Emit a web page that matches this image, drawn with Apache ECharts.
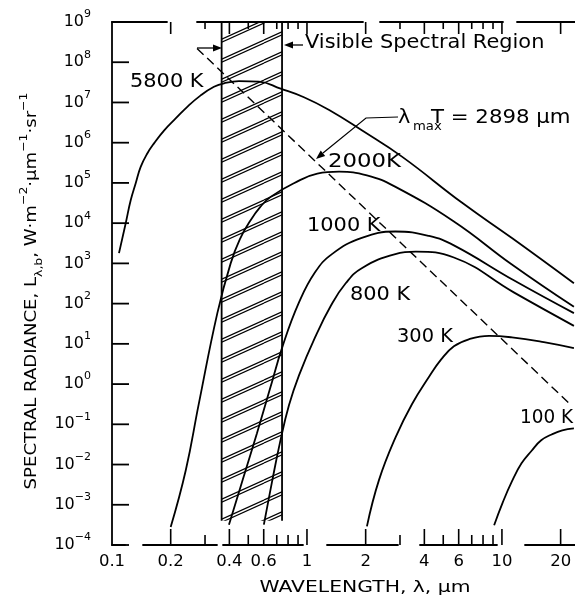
<!DOCTYPE html>
<html>
<head>
<meta charset="utf-8">
<script src="https://cdn.jsdelivr.net/npm/echarts@6.0.0/dist/echarts.min.js"></script>
<style>
html,body{margin:0;padding:0;background:#fff;}
#chart{width:575px;height:607px;}
</style>
</head>
<body>
<div id="chart"></div>
<script>
// ---------- values ----------
// wavelength (µm) and spectral radiance (W·m^-2·µm^-1·sr^-1) along each blackbody curve
const wl5800 = [0.1086, 0.1176, 0.1247, 0.1323, 0.1403, 0.1517, 0.1642, 0.1848, 0.2121, 0.2433, 0.2851, 0.3334, 0.3755, 0.448, 0.567, 0.733, 0.965, 1.3, 1.92, 3.07, 6.25, 11.3, 23.4];
const rad5800 = [1.8e3, 1.0e4, 3.7e4, 9.8e4, 2.5e5, 5.4e5, 9.6e5, 2.0e6, 4.0e6, 7.8e6, 1.5e7, 2.45e7, 3.0e7, 3.4e7, 3.3e7, 2.2e7, 1.35e7, 6.5e6, 2.0e6, 4.5e5, 3.2e4, 4.2e3, 3.2e2];

const wl2000 = [0.20, 0.239, 0.279, 0.347, 0.406, 0.453, 0.515, 0.575, 0.651, 0.857, 1.13, 1.46, 2.03, 2.83, 5.67, 11.2, 23.4];
const rad2000 = [2.8e-4, 7.2e-3, 0.33, 58, 1.0e3, 4.0e3, 1.2e4, 2.5e4, 4.5e4, 9.8e4, 1.7e5, 1.9e5, 1.55e5, 8.1e4, 1.1e4, 9.5e2, 83];

const wl1000 = [0.398, 0.469, 0.554, 0.645, 0.753, 0.91, 1.10, 1.343, 1.91, 2.84, 4.23, 5.67, 11.5, 23.4];
const rad1000 = [3.2e-4, 4.3e-3, 0.060, 0.74, 9.3, 107, 600, 1.7e3, 4.3e3, 6.2e3, 4.8e3, 2.8e3, 380, 58];

const wl800 = [0.601, 0.661, 0.727, 0.809, 0.91, 1.10, 1.33, 1.58, 1.91, 2.84, 3.62, 5.67, 11.5, 23.4];
const rad800 = [3.2e-4, 3.6e-3, 0.035, 0.30, 1.65, 14.5, 91, 320, 760, 1.7e3, 1.95e3, 1.4e3, 190, 28];

const wl300 = [2.03, 2.34, 2.85, 3.46, 4.22, 4.88, 5.67, 6.76, 8.59, 11.25, 16.4, 23.4];
const rad300 = [2.9e-4, 4.1e-3, 0.048, 0.32, 1.5, 4.1, 8.7, 13, 15.8, 14.5, 11, 7.8];

const wl100 = [9.12, 10.1, 11.25, 12.6, 14.2, 15.9, 18.0, 20.4, 23.4];
const rad100 = [3.1e-4, 1.15e-3, 3.8e-3, 0.0107, 0.022, 0.040, 0.056, 0.071, 0.079];

// Wien displacement line  lambda_max * T = 2898 µm·K
const wlWien = [0.273, 22.6];
const radWien = [2.2e8, 0.30];

// visible spectral region (µm) and vertical extent of the hatching
const visibleRange = [0.365, 0.745];
const visibleSpan = [4e-4, 1e9];

// axes
const xMin = 0.1, xMax = 23.7, yMin = 1e-4, yMax = 1e9;
const xTickValues = [0.2, 0.3, 0.4, 0.5, 0.6, 0.7, 0.8, 0.9, 1, 2, 3, 4, 5, 6, 7, 8, 9, 10, 20];
const xLabelValues = [0.1, 0.2, 0.4, 0.6, 1, 2, 4, 6, 10, 20];
const xLabelTexts = ['0.1', '0.2', '0.4', '0.6', '1', '2', '4', '6', '10', '20'];
const yTickValues = [1e-4, 1e-3, 1e-2, 1e-1, 1e0, 1e1, 1e2, 1e3, 1e4, 1e5, 1e6, 1e7, 1e8, 1e9];
const yTickExponents = ['−4', '−3', '−2', '−1', '0', '1', '2', '3', '4', '5', '6', '7', '8', '9'];

// ---------- drawing ----------
const FONT = 'DejaVu Sans';
const INK = '#000';

function pairs(xs, ys) { return xs.map((x, i) => [x, ys[i]]); }

function hatchPattern() {
  const W = 44, H = 20;
  const c = document.createElement('canvas');
  c.width = W; c.height = H;
  const g = c.getContext('2d');
  g.strokeStyle = INK; g.lineWidth = 1.2;
  [-H, 0, H].forEach(off => {
    [0, 3].forEach(d => {
      g.beginPath(); g.moveTo(0, H + off + d); g.lineTo(W, off + d); g.stroke();
    });
  });
  return c;
}

function curve(name, xs, ys) {
  return {
    type: 'line', name, data: pairs(xs, ys), smooth: 0.45, symbol: 'none', showSymbol: false,
    silent: true, z: 4, lineStyle: { color: INK, width: 1.8 }
  };
}

function txt(text, x, y, opts) {
  opts = opts || {};
  const size = opts.size || 19;
  return {
    type: 'text', x, y, scaleX: opts.sx || 1.1, rotation: opts.rot || 0, silent: true, z: 20,
    style: {
      text, fill: INK, fontFamily: FONT, fontSize: size,
      align: opts.align || 'left', textAlign: opts.align || 'left',
      verticalAlign: 'middle', textVerticalAlign: 'middle',
      rich: opts.rich
    }
  };
}

const chart = echarts.init(document.getElementById('chart'), null, { renderer: 'canvas' });

const supRich = {
  b: { fontFamily: FONT, fontSize: 16, lineHeight: 26, verticalAlign: 'middle', fill: INK },
  s: { fontFamily: FONT, fontSize: 11, lineHeight: 11, verticalAlign: 'top', fill: INK }
};

const titleRich = {
  m: { fontFamily: FONT, fontSize: 16, lineHeight: 26, verticalAlign: 'middle', fill: INK },
  u: { fontFamily: FONT, fontSize: 11, lineHeight: 11, verticalAlign: 'top', fill: INK },
  d: { fontFamily: FONT, fontSize: 11, lineHeight: 11, verticalAlign: 'bottom', fill: INK }
};

const option = {
  animation: false,
  backgroundColor: '#fff',
  grid: { left: 112, top: 22, right: 0, bottom: 62, containLabel: false, outerBoundsMode: 'none' },
  xAxis: [
    {
      type: 'log', logBase: 10, min: xMin, max: xMax, position: 'bottom',
      axisLine: { show: true, lineStyle: { color: INK, width: 1.8, type: [13, 18, 74, 6, 80, 24, 71, 22, 77, 28, 60, 100] } },
      axisTick: { show: false }, axisLabel: { show: false }, splitLine: { show: false }, minorTick: { show: false }
    },
    {
      type: 'log', logBase: 10, min: xMin, max: xMax, position: 'top',
      axisLine: { show: true, lineStyle: { color: INK, width: 1.8, type: [55, 30, 166, 17, 123, 14, 60, 100] } },
      axisTick: { show: false }, axisLabel: { show: false }, splitLine: { show: false }
    }
  ],
  yAxis: {
    type: 'log', logBase: 10, min: yMin, max: yMax, position: 'left',
    axisLine: { show: true, lineStyle: { color: INK, width: 1.8 } },
    axisTick: { show: false }, axisLabel: { show: false }, splitLine: { show: false }
  },
  series: [
    // visible region: hatched band with vertical borders
    {
      type: 'line', name: 'visible-left', data: [[visibleRange[0], visibleSpan[1]], [visibleRange[0], visibleSpan[0]]],
      symbol: 'none', silent: true, z: 3, lineStyle: { color: INK, width: 1.8 },
      markArea: {
        silent: true, z: 1,
        label: { show: false },
        itemStyle: { color: { image: hatchPattern(), repeat: 'repeat' }, opacity: 1, borderWidth: 0 },
        data: [[{ coord: [visibleRange[0], visibleSpan[1]] }, { coord: [visibleRange[1], visibleSpan[0]] }]]
      }
    },
    {
      type: 'line', name: 'visible-right', data: [[visibleRange[1], visibleSpan[1]], [visibleRange[1], visibleSpan[0]]],
      symbol: 'none', silent: true, z: 3, lineStyle: { color: INK, width: 1.8 }
    },
    curve('5800 K', wl5800, rad5800),
    curve('2000 K', wl2000, rad2000),
    curve('1000 K', wl1000, rad1000),
    curve('800 K', wl800, rad800),
    curve('300 K', wl300, rad300),
    curve('100 K', wl100, rad100),
    {
      type: 'line', name: 'Wien', data: pairs(wlWien, radWien), symbol: 'none', silent: true, z: 4,
      lineStyle: { color: INK, width: 1.4, type: [9, 5] }
    },
    // x ticks (bottom and top)
    {
      type: 'custom', name: 'xticks', silent: true, clip: false, z: 6,
      data: xTickValues.map(v => [v, yMin]),
      renderItem(params, api) {
        const v = api.value(0);
        const x = api.coord([v, yMin])[0];
        const cs = params.coordSys;
        const major = xLabelValues.indexOf(v) >= 0;
        const lb = major ? 16 : 10, lt = major ? 12 : 7;
        const yb = cs.y + cs.height, yt = cs.y;
        return {
          type: 'group', children: [
            { type: 'line', shape: { x1: x, y1: yb, x2: x, y2: yb - lb }, style: { stroke: INK, lineWidth: 1.6 } },
            { type: 'line', shape: { x1: x, y1: yt, x2: x, y2: yt + lt }, style: { stroke: INK, lineWidth: 1.6 } }
          ]
        };
      }
    },
    // x labels
    {
      type: 'custom', name: 'xlabels', silent: true, clip: false, z: 6,
      data: xLabelValues.map(v => [v, yMin]),
      renderItem(params, api) {
        const x = api.coord([api.value(0), yMin])[0];
        const cs = params.coordSys;
        return {
          type: 'text', x, y: cs.y + cs.height + 10, scaleX: 1.1,
          style: {
            text: xLabelTexts[params.dataIndex], fill: INK, fontFamily: FONT, fontSize: 15,
            align: 'center', textAlign: 'center', verticalAlign: 'top', textVerticalAlign: 'top'
          }
        };
      }
    },
    // y ticks and labels
    {
      type: 'custom', name: 'yticks', silent: true, clip: false, z: 6,
      data: yTickValues.map(v => [xMin, v]),
      renderItem(params, api) {
        const y = api.coord([xMin, api.value(1)])[1];
        const cs = params.coordSys;
        return {
          type: 'group', children: [
            { type: 'line', shape: { x1: cs.x, y1: y, x2: cs.x + 17, y2: y }, style: { stroke: INK, lineWidth: 1.8 } },
            {
              type: 'text', x: cs.x - 21, y,
              style: {
                text: '{b|10}{s|' + yTickExponents[params.dataIndex] + '}', rich: supRich, fill: INK,
                fontFamily: FONT, fontSize: 16,
                align: 'right', textAlign: 'right', verticalAlign: 'middle', textVerticalAlign: 'middle'
              }
            }
          ]
        };
      }
    }
  ],
  graphic: {
    elements: [
      // curve labels
      txt('5800 K', 130, 82),
      txt('2000K', 328, 162, { sx: 1.2 }),
      txt('1000 K', 307, 226),
      txt('800 K', 350, 295),
      txt('300 K', 397, 337, { sx: 1.02 }),
      txt('100 K', 520, 418, { sx: 0.97 }),
      // visible region annotation
      txt('Visible Spectral Region', 305, 43),
      { type: 'line', silent: true, z: 20, shape: { x1: 197, y1: 48, x2: 214, y2: 48 }, style: { stroke: INK, lineWidth: 1.3 } },
      { type: 'polygon', silent: true, z: 20, shape: { points: [[222, 48], [213, 44.5], [213, 51.5]] }, style: { fill: INK } },
      { type: 'line', silent: true, z: 20, shape: { x1: 303, y1: 45, x2: 292, y2: 45 }, style: { stroke: INK, lineWidth: 1.3 } },
      { type: 'polygon', silent: true, z: 20, shape: { points: [[284, 45], [293, 41.5], [293, 48.5]] }, style: { fill: INK } },
      // Wien law annotation
      txt('λ', 398, 118),
      txt('max', 413, 127, { size: 12, sx: 1.1 }),
      txt('T = 2898 µm', 431, 118, { sx: 1.12 }),
      { type: 'polyline', silent: true, z: 20, shape: { points: [[398, 117], [366, 118], [323, 153]] }, style: { stroke: INK, lineWidth: 1.2, fill: null } },
      { type: 'polygon', silent: true, z: 20, shape: { points: [[316, 159], [325.2, 156.0], [320.7, 150.6]] }, style: { fill: INK } },
      // axis titles
      txt('WAVELENGTH, λ, µm', 365, 588, { size: 16, sx: 1.27, align: 'center' }),
      txt('{m|SPECTRAL RADIANCE, L}{d|λ,b}{m|, W·m}{u|−2}{m|·µm}{u|−1}{m|·sr}{u|−1}', 32, 291,
        { size: 16, sx: 1.13, align: 'center', rot: Math.PI / 2, rich: titleRich })
    ]
  }
};

chart.setOption(option);
</script>
</body>
</html>
